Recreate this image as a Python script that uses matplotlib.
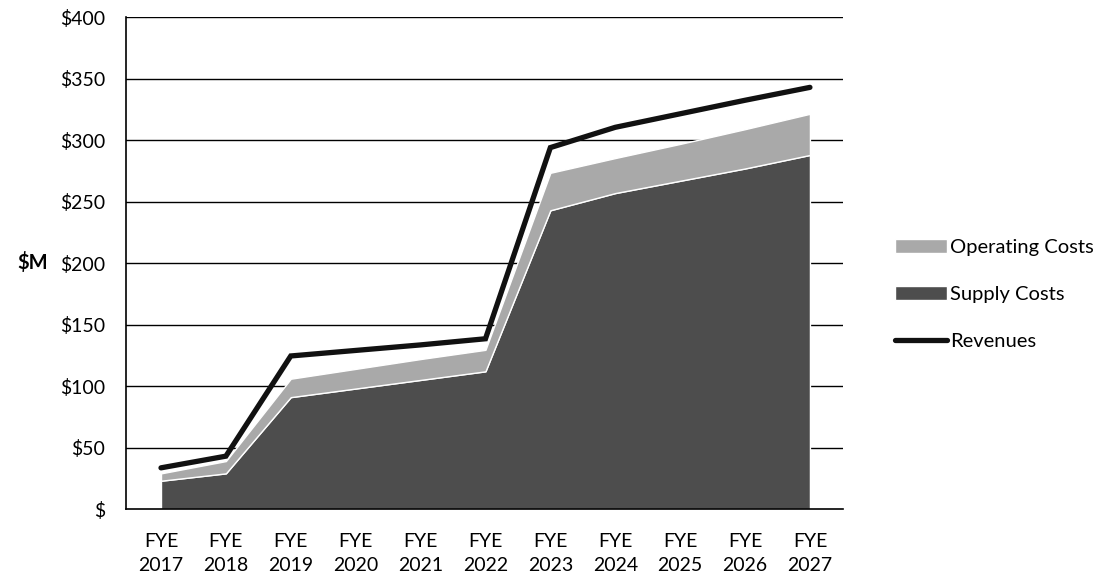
import matplotlib
matplotlib.use("Agg")
import matplotlib.pyplot as plt
import numpy as np

# values in $M
years = ["FYE\n2017", "FYE\n2018", "FYE\n2019", "FYE\n2020", "FYE\n2021", "FYE\n2022",
         "FYE\n2023", "FYE\n2024", "FYE\n2025", "FYE\n2026", "FYE\n2027"]
supply_costs = [23, 29, 91, 98, 105, 112, 243, 257, 267, 277, 288]
operating_costs = [6, 10, 15, 16, 17, 17.5, 30.5, 28.5, 30, 32, 33.5]
revenues = [33.5, 43, 124.5, 129, 133.5, 138.5, 294, 310.5, 321.5, 332.5, 343]
y_ticks = [0, 50, 100, 150, 200, 250, 300, 350, 400]
y_labels = ["$", "$50", "$100", "$150", "$200", "$250", "$300", "$350", "$400"]

plt.rcParams['font.family'] = ['Lato', 'DejaVu Sans']
FS = 14

fig = plt.figure(figsize=(11, 5.82), dpi=100)
ax = fig.add_axes([0.1145, 0.1254, 0.6519, 0.8449])

x = np.arange(len(years))
supply = np.array(supply_costs)
total = supply + np.array(operating_costs)

ax.fill_between(x, 0, supply, color="#4d4d4d", edgecolor="white",
                linewidth=1.0, zorder=2, label="Supply Costs")
ax.fill_between(x, supply, total, color="#a9a9a9", edgecolor="white",
                linewidth=1.0, zorder=2, label="Operating Costs")
ax.plot(x, revenues, color="#111111", linewidth=3.8, solid_capstyle="round",
        solid_joinstyle="miter", zorder=3, label="Revenues")

ax.set_xlim(-0.54, 10.51)
ax.set_ylim(0, 400)
ax.set_yticks(y_ticks)
ax.set_yticklabels(y_labels, fontsize=FS)
ax.set_xticks(x)
ax.set_xticklabels(years, fontsize=FS, linespacing=1.5)
ax.tick_params(axis="both", length=0)
ax.tick_params(axis="y", pad=15)
ax.tick_params(axis="x", pad=17)

for v in y_ticks[1:]:
    ax.axhline(v, color="black", linewidth=1.0, zorder=1)

for s in ["top", "right"]:
    ax.spines[s].set_visible(False)
ax.spines["left"].set_linewidth(1.2)
ax.spines["bottom"].set_linewidth(1.2)
ax.spines["bottom"].set_zorder(4)

fig.text(0.016, 1 - 263 / 582, "$M", fontsize=14.5, fontweight="bold",
         va="center", ha="left")

handles, labels = ax.get_legend_handles_labels()
order = [1, 0, 2]
fig.legend([handles[i] for i in order], [labels[i] for i in order],
           loc="center left", bbox_to_anchor=(0.8045, 0.494), frameon=False,
           fontsize=14.5, handlelength=2.6, handletextpad=0.15,
           labelspacing=1.5, borderpad=0)

plt.savefig("out.png", dpi=100)
